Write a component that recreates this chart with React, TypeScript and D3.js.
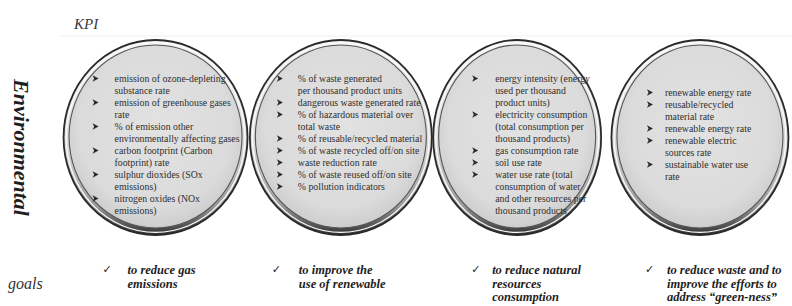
import React from "react";
import * as d3 from "d3";

const categories = ["emissions", "waste", "resources", "renewables"];

const kpiItems: string[][][] = [
  [
    ["emission of ozone-depleting", "substance rate"],
    ["emission of greenhouse gases", "rate"],
    ["% of emission other", "environmentally affecting gases"],
    ["carbon footprint (Carbon", "footprint) rate"],
    ["sulphur dioxides (SOx", "emissions)"],
    ["nitrogen oxides (NOx", "emissions)"],
  ],
  [
    ["% of waste generated", "per thousand product units"],
    ["dangerous waste generated rate"],
    ["% of hazardous material over", "total waste"],
    ["% of reusable/recycled material"],
    ["% of waste recycled off/on site"],
    ["waste reduction rate"],
    ["% of waste reused off/on site"],
    ["% pollution indicators"],
  ],
  [
    ["energy intensity (energy", "used per thousand", "product units)"],
    ["electricity consumption", "(total consumption per", "thousand products)"],
    ["gas consumption rate"],
    ["soil use rate"],
    ["water use rate (total", "consumption of water", "and other resources per", "thousand products"],
  ],
  [
    ["renewable energy rate"],
    ["reusable/recycled", "material rate"],
    ["renewable energy rate"],
    ["renewable electric", "sources rate"],
    ["sustainable water use", "rate"],
  ],
];

const goals: string[][] = [
  ["to reduce gas", "emissions"],
  ["to improve the", "use of renewable"],
  ["to reduce natural", "resources", "consumption"],
  ["to reduce waste and to", "improve the efforts to", "address \u201cgreen-ness\u201d"],
];

const rowLabels = { kpi: "KPI", section: "Environmental", goals: "goals" };

// layout (not data)
const W = 792;
const H = 306;
const centerShift = [2.5, 5.5, -0.5, 0];
const radiusX = [92, 91, 84, 88.5];
const bulletDx = [-63, -64, -45, -53];
const textGap = [22, 21, 23, 18];
const textTop = [82, 82, 82, 96];
const checkDx = [-53, -69, -46, -55];
const goalGap = [25, 27, 21, 22];
const lineH = 12;
const serif = '"Liberation Serif"';

export default function App() {
  const x = d3.scaleBand<string>().domain(categories).range([63, 790]).paddingInner(0.012);
  const cy = 137.5;
  const ry = 97.5;

  return (
    <svg width={W} height={H} style={{ position: "absolute", left: 0, top: 0, background: "#fff" }}>
      <defs>
        <linearGradient id="ring" x1="0" y1="0" x2="0" y2="1">
          <stop offset="0" stopColor="#f6f6f6" />
          <stop offset="0.55" stopColor="#d8d8d8" />
          <stop offset="0.85" stopColor="#999" />
          <stop offset="1" stopColor="#333" />
        </linearGradient>
        <radialGradient id="fill" cx="0.5" cy="0.45" r="0.55">
          <stop offset="0" stopColor="#e2e2e2" />
          <stop offset="0.8" stopColor="#dbdbdb" />
          <stop offset="1" stopColor="#cdcdcd" />
        </radialGradient>
      </defs>
      <line x1={60} x2={W} y1={36} y2={36} stroke="#f0f0f0" strokeWidth={1} />
      <text x={74} y={29} style={{ fontFamily: serif, fontStyle: "italic", fontSize: 15 }} fill="#3a3a3a">
        {rowLabels.kpi}
      </text>
      <text
        transform={`translate(14,${cy + 10}) rotate(90)`}
        textAnchor="middle"
        style={{ fontFamily: serif, fontStyle: "italic", fontWeight: "bold", fontSize: 22 }}
        fill="#1e1e1e"
      >
        {rowLabels.section}
      </text>
      <text x={8} y={289} style={{ fontFamily: serif, fontStyle: "italic", fontSize: 16 }} fill="#333">
        {rowLabels.goals}
      </text>
      {categories.map((c, i) => {
        const cx = x(c)! + x.bandwidth() / 2 + centerShift[i];
        const rx = radiusX[i];
        const bx = cx + bulletDx[i];
        const tx = bx + textGap[i];
        const chx = cx + checkDx[i];
        let line = 0;
        return (
          <g key={c}>
            <ellipse cx={cx} cy={cy} rx={rx} ry={ry} fill="url(#ring)" stroke="#2a2a2a" strokeWidth={1.8} />
            <ellipse cx={cx} cy={cy} rx={rx - 2.6} ry={ry - 2.6} fill="none" stroke="#fbfbfb" strokeWidth={1.3} />
            <ellipse cx={cx} cy={cy - 1} rx={rx - 5.5} ry={ry - 6} fill="url(#fill)" stroke="#555" strokeWidth={1.1} />
            {kpiItems[i].map((item, j) => {
              const yStart = textTop[i] + line * lineH;
              const g = (
                <g key={j}>
                  <path
                    transform={`translate(${bx},${yStart - 3.5})`}
                    d="M0,-3.2 L6,0 L0,3.2 L1.6,0 Z"
                    fill="#2a2a2a"
                  />
                  {item.map((t, k) => (
                    <text
                      key={k}
                      transform={`translate(${tx},${yStart + k * lineH}) scale(0.925,1)`}
                      style={{ fontFamily: serif, fontSize: 10.6 }}
                      fill="#2e2e2e"
                    >
                      {t}
                    </text>
                  ))}
                </g>
              );
              line += item.length;
              return g;
            })}
            <text x={chx} y={273} style={{ fontFamily: '"DejaVu Sans"', fontSize: 11 }} fill="#222">
              {"\u2713"}
            </text>
            {goals[i].map((t, k) => (
              <text
                key={k}
                x={chx + goalGap[i]}
                y={274 + k * 13.5}
                style={{ fontFamily: serif, fontStyle: "italic", fontWeight: "bold", fontSize: 12.5 }}
                fill="#1e1e1e"
              >
                {t}
              </text>
            ))}
          </g>
        );
      })}
    </svg>
  );
}
